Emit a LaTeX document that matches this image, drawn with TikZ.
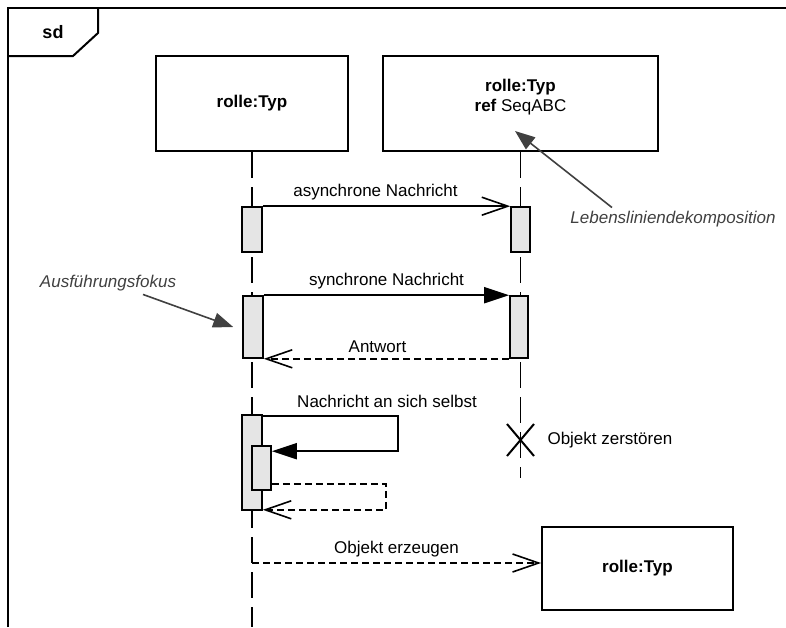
\documentclass[tikz,border=0pt]{standalone}
\usepackage{fontspec}
\setmainfont{Liberation Sans}
\usepackage{xcolor}
\usetikzlibrary{arrows.meta, positioning, shapes.misc}

\begin{document}
\begin{tikzpicture}[
    x=1pt, y=-1pt,
    font=\fontsize{17}{20}\selectfont,
    lifebox/.style={rectangle, draw, line width=2pt, minimum width=192pt, minimum height=95pt, align=center},
    actbox/.style={rectangle, draw, fill=gray!20, line width=1.6pt, minimum width=20pt, inner sep=0pt},
    msg/.style={line width=1.8pt},
    async/.style={msg, -{Straight Barb[length=26pt, width=18pt, line width=1.6pt]}},
    sync/.style={msg, -{Triangle[length=25pt, width=16pt]}},
    reply/.style={async, dash pattern=on 7pt off 4pt},
    lifeline/.style={line width=1.6pt, dash pattern=on 26pt off 9pt},
    note/.style={font=\fontsize{17}{20}\selectfont\itshape, text=black!75},
    notearrow/.style={-{Stealth[length=20pt, width=15pt, inset=0pt]}, line width=1.6pt, black!75},
    destroy/.style={cross out, draw, line width=2pt, minimum width=25pt, minimum height=30pt, inner sep=0pt},
    frame/.style={line width=2pt}
]
\useasboundingbox (0,0) rectangle (786,627);

\draw[frame] (8,627) -- (8,8) -- (786,8);
\draw[frame] (8,56) -- (73,56) -- (98,33) -- (98,8);
\node[font=\fontsize{18}{20}\selectfont\bfseries] (sd) at (53,32) {sd};

\node[lifebox] (obj1) at (252,103.5) {\textbf{rolle:Typ}};
\node[lifebox, minimum width=275pt, text depth=16pt] (obj2) at (520.5,103.5) {\textbf{rolle:Typ}\\\textbf{ref} SeqABC};
\node[lifebox, minimum width=191pt, minimum height=83pt] (obj3) at (637.5,568.5) {\textbf{rolle:Typ}};

\coordinate (end1) at (252,627);
\coordinate (end2) at (520.5,478);
\draw[lifeline] (obj1.south) -- (end1);
\draw[lifeline] (obj2.south) -- (end2);

\node[actbox, minimum height=45pt] (a1) at (252,229.5) {};
\node[actbox, minimum height=45pt, minimum width=19pt] (a2) at (520.5,229.5) {};
\node[actbox, minimum height=62pt] (a3) at (253,327) {};
\node[actbox, minimum height=62pt, minimum width=18pt] (a4) at (519,327) {};
\node[actbox, minimum height=95pt] (a5) at (252,462.5) {};
\node[actbox, minimum height=44pt, minimum width=19pt] (a6) at (261.5,468) {};

\draw[async] (a1.north east) -- (a2.north west) node[midway, above=2pt, xshift=-11pt] {asynchrone Nachricht};
\draw[sync] (a3.north east) -- (a4.north west) node[midway, above=2pt] {synchrone Nachricht};
\draw[reply] (a4.south west) -- (a3.south east) node[midway, above=2pt, xshift=-9pt] {Antwort};

\draw[msg, -{Triangle[length=25pt, width=16pt]}] ([yshift=-2pt]a5.north east) -- ++(135,0) node[pos=0.92, above=4pt] {Nachricht an sich selbst} |- ([yshift=-6pt]a6.north east);
\draw[reply] ([yshift=7pt]a6.south east) -- ++(114,0) |- ([yshift=1pt]a5.south east);

\node[destroy] (kill) at (520.5,440) {};
\node[right=10pt of kill] (killtext) {Objekt zerstören};

\coordinate (c1) at (252,563);
\draw[reply] (c1) -- (c1 -| obj3.west) node[midway, above=2pt] {Objekt erzeugen};

\node[note] (focusnote) at (108,283) {Ausführungsfokus};
\draw[notearrow] ([xshift=35pt]focusnote.south) -- ([xshift=-9pt]a3.west);

\node[note] (decompnote) at (673,219) {Lebensliniendekomposition};
\draw[notearrow] ([xshift=-61pt]decompnote.north) -- ([xshift=-5.5pt, yshift=21pt]obj2.south);

\end{tikzpicture}
\end{document}
